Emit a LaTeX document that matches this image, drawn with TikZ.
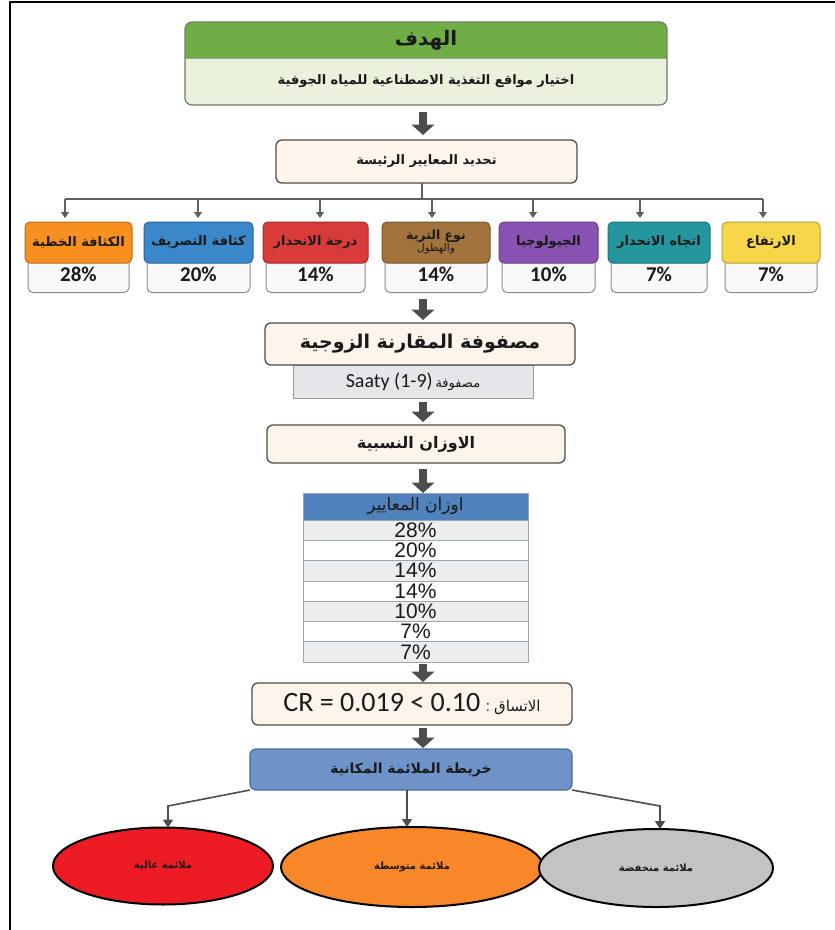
\documentclass[tikz,border=0pt]{standalone}
\usepackage{fontspec}
\setmainfont{Liberation Sans}
\newfontfamily\arfont[Script=Arabic]{DejaVu Sans}
\newfontfamily\calib{Carlito}
\TeXXeTstate=1
\usetikzlibrary{arrows.meta,shapes.geometric}
\newcommand\AR[1]{{\arfont\beginR #1\endR}}
\newcommand\fs[1]{\fontsize{#1}{#1}\selectfont}
\definecolor{goalgreen}{HTML}{70AD47}
\definecolor{goallight}{HTML}{EAF1DD}
\definecolor{goalline}{HTML}{6D7F60}
\definecolor{cream}{HTML}{FDF5EC}
\definecolor{boxline}{HTML}{4D4D4D}
\definecolor{corange}{HTML}{F7901E}
\definecolor{cblue}{HTML}{3A87CA}
\definecolor{cred}{HTML}{D93B3B}
\definecolor{cbrown}{HTML}{A2733D}
\definecolor{cpurple}{HTML}{8A52B2}
\definecolor{cteal}{HTML}{24979E}
\definecolor{cyellow}{HTML}{F7D64A}
\definecolor{pctfill}{HTML}{F8F8F8}
\definecolor{pctline}{HTML}{8C8C8C}
\definecolor{saatyfill}{HTML}{E6E6EA}
\definecolor{saatyline}{HTML}{9A9A9A}
\definecolor{tblhead}{HTML}{4F81BD}
\definecolor{rowgrey}{HTML}{EDEDED}
\definecolor{tblline}{HTML}{9DA5AE}
\definecolor{mapblue}{HTML}{6D93C8}
\definecolor{mapline}{HTML}{4B6B99}
\definecolor{ered}{HTML}{ED1C24}
\definecolor{eorange}{HTML}{F8872A}
\definecolor{egrey}{HTML}{C3C3C3}
\definecolor{arrgrey}{HTML}{4D4D4D}
\definecolor{txt}{HTML}{1A1A1A}
\begin{document}
\begin{tikzpicture}[x=1pt,y=-1pt,
  every node/.style={inner sep=0pt, outer sep=0pt, text=txt},
  mainbox/.style={draw=boxline, line width=1.3pt, rounded corners=6pt, fill=cream, align=center},
  critbox/.style={draw=#1!75!black, line width=1pt, fill=#1, rounded corners=5pt, minimum height=41pt, align=center},
  pctbox/.style={draw=pctline, line width=1pt, fill=pctfill, rounded corners=5pt, minimum height=36pt},
  blockarr/.style={draw=arrgrey, line width=8pt, -{Triangle[width=0pt 2.8, length=0pt 1.3]}},
  conn/.style={draw=arrgrey!90, line width=1.2pt},
  thinarr/.style={conn, -{Triangle[width=8pt, length=6pt]}},
  maparr/.style={draw=arrgrey, line width=1.6pt, -{Triangle[width=10pt, length=8pt]}},
  ell/.style={ellipse, draw=black, line width=2pt, minimum width=#1},
  rowbox/.style={draw=tblline, line width=0.8pt, minimum width=225pt, minimum height=20.3pt},
]
\useasboundingbox (0,0) rectangle (835,930);
\fill[white] (0,0) rectangle (835,930);
\draw[line width=2pt] (10,930) -- (10,2) -- (835,2);

\coordinate (col) at (423,0);

% goal box
\node[minimum width=482pt, minimum height=83pt] (goal) at (426,63.5) {};
\begin{scope}
\clip[rounded corners=7pt] (goal.north west) rectangle (goal.south east);
\fill[goallight] (goal.north west) rectangle (goal.south east);
\fill[goalgreen] (goal.north west) rectangle (goal.east |- 0,58);
\end{scope}
\draw[goalline!70, line width=0.6pt] (goal.west |- 0,58) -- (goal.east |- 0,58);
\draw[goalline, line width=1.2pt, rounded corners=7pt] (goal.north west) rectangle (goal.south east);
\node (goalt) at (426,40) {\bfseries\fs{20}\AR{الهدف}};
\node (goals) at (426,81) {\bfseries\fs{13}\AR{اختيار مواقع التغذية الاصطناعية للمياه الجوفية}};

% main criteria box
\node[mainbox, minimum width=301pt, minimum height=43pt] (crit) at (426.5,161.5) {\bfseries\fs{13}\AR{تحديد المعايير الرئيسة}};
\draw[blockarr, shorten <=7pt, shorten >=5pt] (goal.south -| col) -- (crit.north -| col);

% bus
\coordinate (busmid) at (422,199);
\draw[conn] (crit.south -| busmid) -- (busmid);
\draw[conn] (65,199) -- (763,199);

% criteria
\foreach \i/\cx/\w/\col/\lab/\pct/\ax in {
  1/78.5/107/corange/{\fs{13}\AR{الكثافة الخطية}}/28/65,
  2/198.5/109/cblue/{\fs{13}\AR{كثافة التصريف}}/20/198,
  3/315.5/105/cred/{\fs{13}\AR{درجة الانحدار}}/14/320,
  4/436/108/cbrown/{\fontsize{12.5}{16}\selectfont\AR{نوع التربة}\\\fontsize{10.5}{10}\selectfont\AR{والهطول}}/14/432,
  5/548.5/99/cpurple/{\fs{13}\AR{الجيولوجيا}}/10/533,
  6/659/102/cteal/{\fs{13}\AR{اتجاه الانحدار}}/7/640,
  7/771/98/cyellow/{\fs{13}\AR{الارتفاع}}/7/763}
{
  \node[pctbox, minimum width=\w-6] (p\i) at (\cx,274.5) {\calib\bfseries\fs{21}\pct\%};
  \node[critbox=\col, minimum width=\w] (c\i) at (\cx,242.5) {\bfseries\lab};
  \draw[thinarr, shorten >=4pt] (\ax,199) -- (c\i.north -| \ax,0);
}

% pairwise comparison
\node[draw=saatyline, fill=saatyfill, line width=1pt, minimum width=240pt, minimum height=33pt] (saaty) at (413,381.5)
  {{\calib\fs{20}Saaty (1-9)}\ {\fs{13}\AR{مصفوفة}}};
\node[mainbox, minimum width=310pt, minimum height=42pt] (pair) at (420,344) {\bfseries\fs{19}\AR{مصفوفة المقارنة الزوجية}};
\draw[blockarr, shorten <=6pt, shorten >=3pt] (p4.south -| col) -- (pair.north -| col);

% relative weights
\node[mainbox, minimum width=298pt, minimum height=38pt] (wts) at (416,444) {\bfseries\fs{16}\AR{الاوزان النسبية}};
\draw[blockarr, shorten <=4pt, shorten >=3pt] (saaty.south -| col) -- (wts.north -| col);

% table
\node[draw=tblline, fill=tblhead, line width=0.8pt, minimum width=225pt, minimum height=27pt] (th) at (415.5,506.5) {\fs{17}\AR{اوزان المعايير}};
\foreach \v [count=\k] in {28,20,14,14,10,7,7} {
  \ifodd\k\def\rf{rowgrey}\else\def\rf{white}\fi
  \node[rowbox, fill=\rf] (r\k) at (415.5,{520+10.15+(\k-1)*20.3}) {\fs{21}\v\%};
}
\draw[blockarr, shorten <=6pt, shorten >=0pt] (wts.south -| col) -- (th.north -| col);

% consistency
\node[mainbox, minimum width=320pt, minimum height=42pt] (cr) at (412,704)
  {{\calib\fs{28}CR = 0.019 < 0.10}\ \ {\fs{15}:\ \AR{الاتساق}}};
\draw[blockarr, shorten <=2pt, shorten >=1pt] (r7.south -| col) -- (cr.north -| col);

% suitability map
\node[draw=mapline, fill=mapblue, line width=1.2pt, rounded corners=6pt, minimum width=322pt, minimum height=41pt] (map) at (411,769.5)
  {\bfseries\fs{14}\AR{خريطة الملائمة المكانية}};
\draw[blockarr, shorten <=3pt, shorten >=1pt] (cr.south -| col) -- (map.north -| col);

% ellipses
\node[ell=220pt, fill=ered, minimum height=77pt] (e1) at (163,866) {\bfseries\fs{10}\AR{ملائمة عالية}};
\node[ell=262pt, fill=eorange, minimum height=80pt] (e2) at (412,867) {\bfseries\fs{10}\AR{ملائمة متوسطة}};
\node[ell=234pt, fill=egrey, minimum height=78pt] (e3) at (656,868) {\bfseries\fs{10}\AR{ملائمة منخفضة}};

\coordinate (lk) at (168,806);
\coordinate (rk) at (660,806);
\draw[maparr] (map.south west) -- (lk) -- (e1.north -| lk);
\draw[maparr] (map.south -| 407,0) -- (e2.north -| 407,0);
\draw[maparr] (map.south east) -- (rk) -- (e3.north -| rk);
\end{tikzpicture}
\end{document}
